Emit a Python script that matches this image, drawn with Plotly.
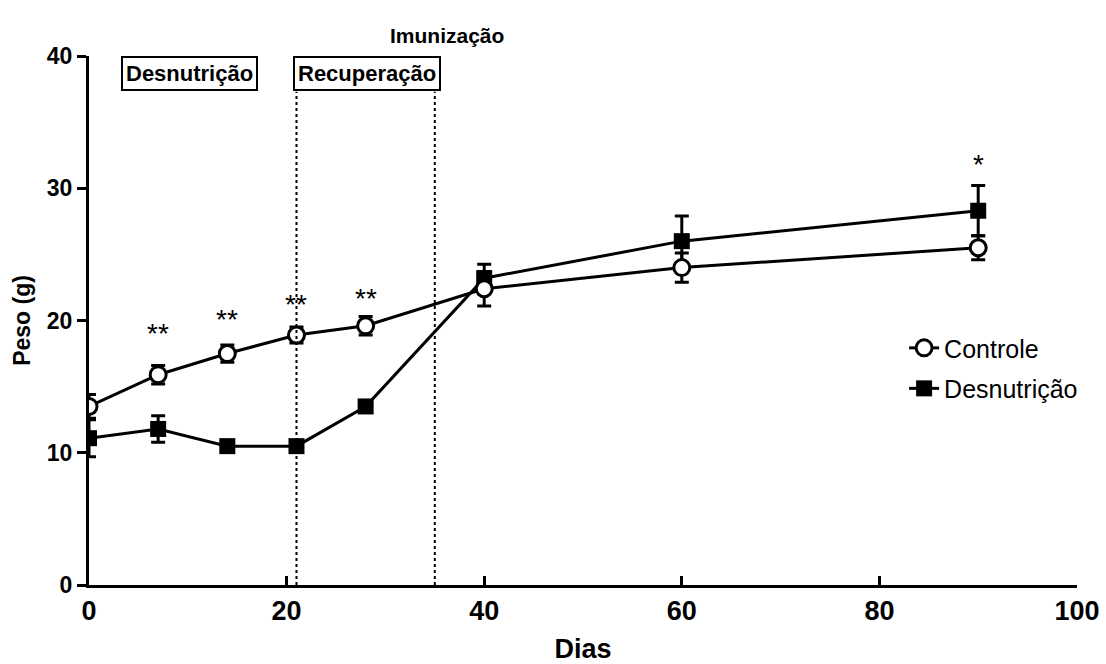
import plotly.graph_objects as go

dias = [0, 7, 14, 21, 28, 40, 60, 90]
controle = [13.5, 15.9, 17.5, 18.9, 19.6, 22.4, 24.0, 25.5]
controle_err = [0.9, 0.7, 0.65, 0.6, 0.7, 1.3, 1.1, 0.9]
desnut = [11.1, 11.8, 10.5, 10.5, 13.5, 23.2, 26.0, 28.3]
desnut_err = [1.4, 1.0, 0.3, 0.3, 0.3, 1.05, 1.9, 1.9]

star_x = [7, 14, 21, 28, 90]
star_y = [19.0, 20.1, 21.2, 21.7, 31.8]
star_txt = ["**", "**", "**", "**", "*"]

FONT = "Liberation Sans, Arial, sans-serif"

fig = go.Figure()
fig.add_trace(go.Scatter(
    x=dias, y=desnut, name="Desnutrição", mode="lines+markers", legendrank=2,
    legendgroup="b",
    line=dict(color="black", width=3),
    marker=dict(symbol="square", size=16, color="black"),
    error_y=dict(type="data", array=desnut_err, color="black", thickness=3, width=7),
))
fig.add_trace(go.Scatter(
    x=dias, y=controle, name="Controle", mode="lines+markers", legendrank=1,
    legendgroup="a",
    line=dict(color="black", width=3),
    marker=dict(symbol="circle", size=16, color="white", line=dict(color="black", width=3)),
    error_y=dict(type="data", array=controle_err, color="black", thickness=3, width=7),
))

for x, y, t in zip(star_x, star_y, star_txt):
    fig.add_annotation(x=x, y=y, text=t, showarrow=False,
                       font=dict(family=FONT, size=28, color="black"))

for xv in [21, 35]:
    fig.add_shape(type="line", x0=xv, x1=xv, y0=0, y1=37.3, xref="x", yref="y",
                  line=dict(color="black", width=2, dash="dot"))

fig.add_annotation(x=10.2, y=38.65, text="<b>Desnutrição</b>", showarrow=False,
                   font=dict(family=FONT, size=22, color="black"),
                   bordercolor="black", borderwidth=2, borderpad=3, bgcolor="white")
fig.add_annotation(x=28.1, y=38.65, text="<b>Recuperação</b>", showarrow=False,
                   font=dict(family=FONT, size=22, color="black"),
                   bordercolor="black", borderwidth=2, borderpad=3, bgcolor="white")
fig.add_annotation(x=36.2, y=1.064, xref="x", yref="paper", text="<b>Imunização</b>",
                   showarrow=False, font=dict(family=FONT, size=21, color="black"))

fig.update_layout(
    width=1106, height=664,
    margin=dict(l=89, r=29, t=56, b=79),
    plot_bgcolor="white", paper_bgcolor="white",
    font=dict(family=FONT, color="black"),
    legend=dict(x=0.825, y=0.41, xanchor="left", yanchor="middle",
                traceorder="grouped", tracegroupgap=5,
                font=dict(size=25, family=FONT),
                bgcolor="rgba(0,0,0,0)", itemwidth=30),
    showlegend=True,
)
fig.update_xaxes(range=[0, 100], tickvals=[0, 20, 40, 60, 80, 100], automargin=False,
                 showgrid=False, zeroline=False, showline=True, linecolor="black",
                 linewidth=3, ticks="inside", ticklen=9, tickwidth=3, tickcolor="black",
                 tickfont=dict(size=27, family=FONT, weight="bold"),
                 title=dict(text="<b>Dias</b>", font=dict(size=27, family=FONT), standoff=18))
fig.update_yaxes(range=[0, 40], tickvals=[0, 10, 20, 30, 40], automargin=False,
                 showgrid=False, zeroline=False, showline=True, linecolor="black",
                 linewidth=3, ticks="outside", ticklen=9, tickwidth=3, tickcolor="black",
                 tickfont=dict(size=23, family=FONT, weight="bold"),
                 title=dict(text="<b>Peso (g)</b>", font=dict(size=23, family=FONT), standoff=10))

fig.write_html("out.html")
